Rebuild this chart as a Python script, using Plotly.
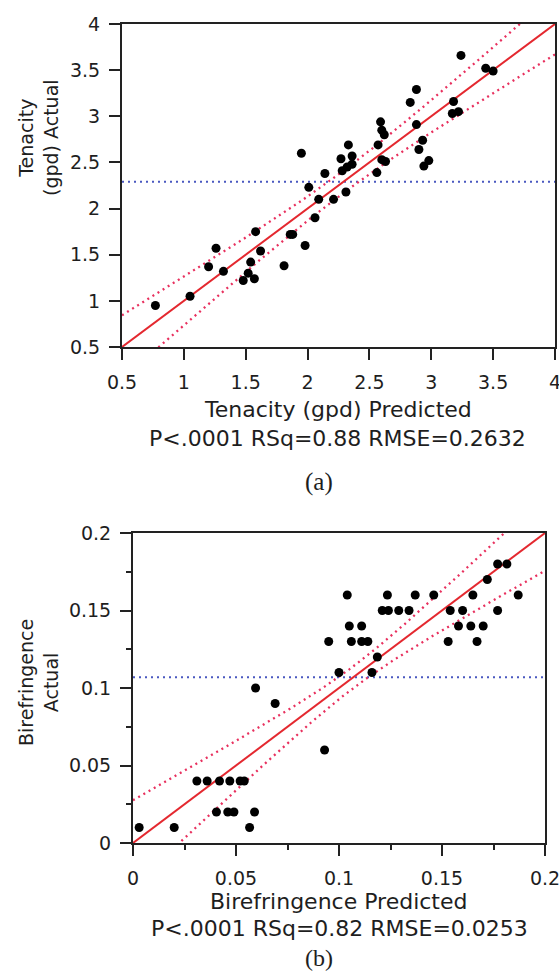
import numpy as np
import plotly.graph_objects as go

W, H = 559, 973

# ---------------- data ----------------
ten_pred = [0.77, 1.05, 1.20, 1.26, 1.32, 1.48, 1.52, 1.54, 1.57, 1.58, 1.62, 1.81, 1.86, 1.88,
            1.95, 1.98, 2.01, 2.06, 2.09, 2.14, 2.21, 2.27, 2.28, 2.31, 2.32, 2.33, 2.36, 2.36,
            2.56, 2.57, 2.59, 2.60, 2.62, 2.60, 2.63, 2.83, 2.88, 2.88, 2.90, 2.93, 2.94, 2.98,
            3.18, 3.17, 3.22, 3.24, 3.44, 3.50]
ten_act = [0.95, 1.05, 1.37, 1.57, 1.32, 1.22, 1.30, 1.42, 1.24, 1.75, 1.54, 1.38, 1.72, 1.72,
           2.60, 1.60, 2.23, 1.90, 2.10, 2.38, 2.10, 2.54, 2.41, 2.18, 2.45, 2.69, 2.48, 2.57,
           2.39, 2.69, 2.94, 2.85, 2.80, 2.53, 2.51, 3.15, 3.29, 2.91, 2.64, 2.74, 2.46, 2.52,
           3.16, 3.03, 3.05, 3.66, 3.52, 3.49]

bir_pred = [0.003, 0.020, 0.031, 0.036, 0.042, 0.047, 0.052, 0.054, 0.0405, 0.046, 0.049, 0.059,
            0.0566, 0.0595, 0.069, 0.093, 0.100, 0.095, 0.104, 0.105, 0.106, 0.111, 0.111, 0.114,
            0.1186, 0.116, 0.121, 0.124, 0.1235, 0.129, 0.134, 0.137, 0.146, 0.154, 0.153, 0.158,
            0.160, 0.165, 0.164, 0.167, 0.170, 0.172, 0.177, 0.1815, 0.177, 0.187]
bir_act = [0.01, 0.01, 0.04, 0.04, 0.04, 0.04, 0.04, 0.04, 0.02, 0.02, 0.02, 0.02,
           0.01, 0.10, 0.09, 0.06, 0.11, 0.13, 0.16, 0.14, 0.13, 0.14, 0.13, 0.13,
           0.12, 0.11, 0.15, 0.15, 0.16, 0.15, 0.15, 0.16, 0.16, 0.15, 0.13, 0.14,
           0.15, 0.16, 0.14, 0.13, 0.14, 0.17, 0.18, 0.18, 0.15, 0.16]

# mean line and confidence-curve parameters (center, half-width at center, slope factor)
ten_mean, ten_a, ten_b = 2.29, 0.12, 0.18
bir_mean, bir_a, bir_b = 0.107, 0.007, 0.25

ten_range = [0.5, 4]
bir_range = [0, 0.2]

ten_stats = "P<.0001 RSq=0.88 RMSE=0.2632"
bir_stats = "P<.0001 RSq=0.82 RMSE=0.0253"

# ---------------- layout helpers ----------------
def px_x(p):
    return p / W

def px_y(p):
    return 1 - p / H

RED = "#e4282f"
PINK = "#e8305e"
BLUE = "#4a58c0"
TXT = "#1e1e1e"
FONT = "DejaVu Sans"

fig = go.Figure()

def add_panel(xr, yr, pred, act, mean, a, b, xa, ya):
    xs = np.linspace(xr[0], xr[1], 300)
    hw = np.sqrt(a ** 2 + b ** 2 * (xs - mean) ** 2)
    fig.add_trace(go.Scatter(x=[xr[0], xr[1]], y=[mean, mean], mode="lines",
                             line=dict(color=BLUE, width=2, dash="2px,4px"),
                             xaxis=xa, yaxis=ya, hoverinfo="skip"))
    fig.add_trace(go.Scatter(x=xs, y=xs + hw, mode="lines",
                             line=dict(color=PINK, width=2.3, dash="2px,4px"),
                             xaxis=xa, yaxis=ya, hoverinfo="skip"))
    fig.add_trace(go.Scatter(x=xs, y=xs - hw, mode="lines",
                             line=dict(color=PINK, width=2.3, dash="2px,4px"),
                             xaxis=xa, yaxis=ya, hoverinfo="skip"))
    fig.add_trace(go.Scatter(x=xs, y=xs, mode="lines",
                             line=dict(color=RED, width=2),
                             xaxis=xa, yaxis=ya, hoverinfo="skip"))
    fig.add_trace(go.Scatter(x=pred, y=act, mode="markers",
                             marker=dict(color="black", size=9),
                             xaxis=xa, yaxis=ya))

add_panel(ten_range, ten_range, ten_pred, ten_act, ten_mean, ten_a, ten_b, "x", "y")
add_panel(bir_range, bir_range, bir_pred, bir_act, bir_mean, bir_a, bir_b, "x2", "y2")

axis_common = dict(showgrid=False, zeroline=False, showline=True, mirror=True,
                   linecolor="#222222", linewidth=2, ticks="outside",
                   tickcolor="#222222", tickwidth=2, ticklen=11,
                   tickfont=dict(family=FONT, size=19, color=TXT),
                   ticklabeloverflow="allow",
                   automargin=False)

fig.update_layout(
    width=W, height=H,
    margin=dict(l=0, r=0, t=0, b=0),
    paper_bgcolor="white", plot_bgcolor="white",
    showlegend=False,
    xaxis=dict(domain=[px_x(122), px_x(555)], range=ten_range, dtick=0.5, tick0=0.5,
               anchor="y", ticklabelstandoff=6, **axis_common),
    yaxis=dict(domain=[px_y(347), px_y(24)], range=ten_range, dtick=0.5, tick0=0.5,
               anchor="x", ticklabelstandoff=5, **axis_common),
    xaxis2=dict(domain=[px_x(133), px_x(545)], range=bir_range, dtick=0.05, tick0=0,
                anchor="y2", ticklabelstandoff=6,
                minor=dict(dtick=0.025, ticks="outside", ticklen=5, tickwidth=2,
                           tickcolor="#222222"),
                **axis_common),
    yaxis2=dict(domain=[px_y(843), px_y(533)], range=bir_range, dtick=0.05, tick0=0,
                anchor="x2", ticklabelstandoff=5,
                minor=dict(dtick=0.025, ticks="outside", ticklen=5, tickwidth=2,
                           tickcolor="#222222"),
                **axis_common),
)

def note(text, x, y, size, angle=0, family=FONT):
    fig.add_annotation(text=text, x=px_x(x), y=px_y(y), xref="paper", yref="paper",
                       showarrow=False, textangle=angle, xanchor="center", yanchor="middle",
                       font=dict(family=family, size=size, color=TXT))

note("Tenacity (gpd) Predicted", 338, 409, 22)
note(ten_stats, 337, 438, 22)
note("(a)", 319, 482, 25, family="Liberation Serif")
note("Tenacity<br>(gpd) Actual", 38, 138, 19, angle=-90)

note("Birefringence Predicted", 339, 901, 22)
note(bir_stats, 339, 928, 22)
note("(b)", 319, 958, 24, family="Liberation Serif")
note("Birefringence<br>Actual", 38, 683, 19, angle=-90)

fig.write_html("out.html")
